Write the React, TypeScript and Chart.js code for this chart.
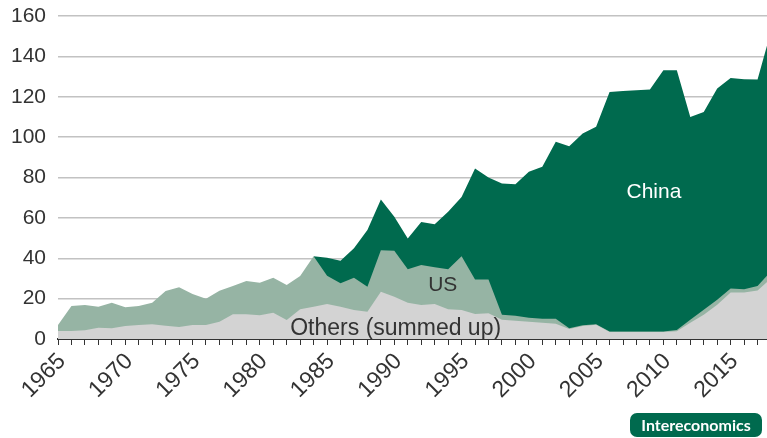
import React, { useEffect, useRef } from 'react';
import { Chart, registerables } from 'chart.js';

Chart.register(...registerables);

const years = [
  '1965','1966','1967','1968','1969','1970','1971','1972','1973','1974',
  '1975','1976','1977','1978','1979','1980','1981','1982','1983','1984',
  '1985','1986','1987','1988','1989','1990','1991','1992','1993','1994',
  '1995','1996','1997','1998','1999','2000','2001','2002','2003','2004',
  '2005','2006','2007','2008','2009','2010','2011','2012','2013','2014',
  '2015','2016','2017','2018'
];

const shownYearLabels = ['1965','1970','1975','1980','1985','1990','1995','2000','2005','2010','2015'];

const others = [
  4, 4, 4.3, 5.6, 5.3, 6.4, 6.9, 7.3, 6.6, 6,
  6.9, 6.9, 8.5, 12.2, 12.2, 11.8, 13, 9.4, 14.7, 16,
  17.3, 16, 14.4, 13.5, 23.4, 20.9, 18, 16.8, 17.3, 14.7,
  14.4, 12.4, 12.7, 9.5, 9, 8.5, 8, 7.5, 5, 6.5,
  7, 3.5, 3.5, 3.5, 3.5, 3.5, 3.8, 8, 12, 17,
  23, 23, 24, 30
];

const us = [
  2.9, 12.3, 12.5, 10.4, 12.7, 9.3, 9.4, 10.7, 17.2, 19.6,
  15.4, 13.1, 15.4, 14, 16.5, 16.1, 17.3, 17.3, 16.5, 25,
  14, 11.6, 16, 12.4, 20.6, 22.8, 16.5, 19.8, 18.2, 19.8,
  26.6, 17.1, 16.8, 2.5, 2.5, 2, 2, 2.5, 0.3, 0.3,
  0.3, 0.2, 0.2, 0.2, 0.2, 0.2, 0.7, 1.5, 2.5, 2.5,
  2, 1.6, 2.2, 3.5
];

const china: (number | null)[] = [
  null, null, null, null, null, null, null, null, null, null,
  null, null, null, null, null, null, null, null, null, 0,
  9, 11.2, 14.5, 28.1, 25.1, 16.8, 15.3, 21.4, 21.4, 28.5,
  29.4, 55, 50.5, 65, 65.1, 72.3, 75.3, 87.7, 90.2, 95,
  97.8, 118.7, 119.2, 119.5, 119.9, 129.4, 128.6, 100.5, 98, 104.6,
  104.3, 104.1, 102.4, 119
];

const yMin = 0;
const yMax = 160;
const yStep = 20;

const COLOR_CHINA = '#006a4e';
const COLOR_US = '#96b4a4';
const COLOR_OTHERS = '#d3d3d3';
const FONT = '"Liberation Sans", Arial, Helvetica, sans-serif';

const seriesLabels = [
  { text: 'China', year: 44.3, value: 69.6, color: '#ffffff', size: 21 },
  { text: 'US', year: 28.6, value: 24.0, color: '#333333', size: 21 },
  { text: 'Others (summed up)', year: 25.1, value: 1.8, color: '#333333', size: 23 },
];

const labelPlugin = {
  id: 'seriesLabels',
  afterDatasetsDraw(chart: any) {
    const { ctx, scales } = chart;
    ctx.save();
    ctx.textAlign = 'center';
    ctx.textBaseline = 'alphabetic';
    for (const l of seriesLabels) {
      ctx.font = `${l.size}px ${FONT}`;
      ctx.fillStyle = l.color;
      ctx.fillText(l.text, scales.x.getPixelForValue(l.year), scales.y.getPixelForValue(l.value));
    }
    ctx.restore();
  },
};

export default function App() {
  const ref = useRef<HTMLCanvasElement>(null);

  useEffect(() => {
    if (!ref.current) return;
    const othersTop = others.map((v) => v);
    const usTop = others.map((v, i) => v + us[i]);
    const total = china.map((c, i) => (c == null ? null : others[i] + us[i] + c));

    const chart = new Chart(ref.current, {
      type: 'line',
      data: {
        labels: years,
        datasets: [
          { label: 'Others', data: othersTop, fill: 'origin', backgroundColor: COLOR_OTHERS, borderWidth: 0, pointRadius: 0, tension: 0 },
          { label: 'US', data: usTop, fill: 'origin', backgroundColor: COLOR_US, borderWidth: 0, pointRadius: 0, tension: 0 },
          { label: 'China', data: total, fill: 'origin', backgroundColor: COLOR_CHINA, borderWidth: 0, pointRadius: 0, tension: 0 },
        ],
      },
      options: {
        animation: false,
        responsive: false,
        devicePixelRatio: 1,
        layout: { padding: { top: 16, left: 0, right: 0, bottom: 0 } },
        plugins: { legend: { display: false }, tooltip: { enabled: false } },
        scales: {
          x: {
            type: 'category',
            offset: false,
            afterFit: (s: any) => { s.height = 99; s.paddingRight = 0; s.paddingLeft = 0; },
            grid: { display: true, drawOnChartArea: false, drawTicks: true, tickLength: 6, color: '#333', lineWidth: 1 },
            border: { display: true, color: '#333', width: 2 },
            ticks: {
              autoSkip: false,
              maxRotation: 45,
              minRotation: 45,
              padding: 3,
              labelOffset: 4,
              color: '#333',
              font: { family: FONT, size: 23 },
              callback: function (this: any, value: any) {
                const lab = this.getLabelForValue(value);
                return shownYearLabels.includes(lab) ? lab : '';
              },
            },
          },
          y: {
            min: yMin,
            max: yMax,
            afterFit: (s: any) => { s.width = 58; s.paddingTop = 0; s.paddingBottom = 0; },
            grid: { color: '#c2c2c2', lineWidth: 1.5, drawTicks: false },
            border: { display: false },
            ticks: { stepSize: yStep, padding: 12, color: '#333', font: { family: FONT, size: 21 } },
          },
        },
      },
      plugins: [labelPlugin],
    });
    return () => chart.destroy();
  }, []);

  return (
    <div style={{ position: 'absolute', left: 0, top: 0, width: 767, height: 438, overflow: 'hidden', background: '#fff' }}>
      <canvas ref={ref} width={771} height={438} style={{ display: 'block' }} />
      <div
        style={{
          position: 'absolute', left: 630, top: 413, width: 132, height: 24,
          background: COLOR_CHINA, borderRadius: 7, color: '#fff',
          fontFamily: 'Lato, "Open Sans", sans-serif', fontWeight: 700, fontSize: 16,
          lineHeight: '24px', textAlign: 'center',
        }}
      >
        Intereconomics
      </div>
    </div>
  );
}
